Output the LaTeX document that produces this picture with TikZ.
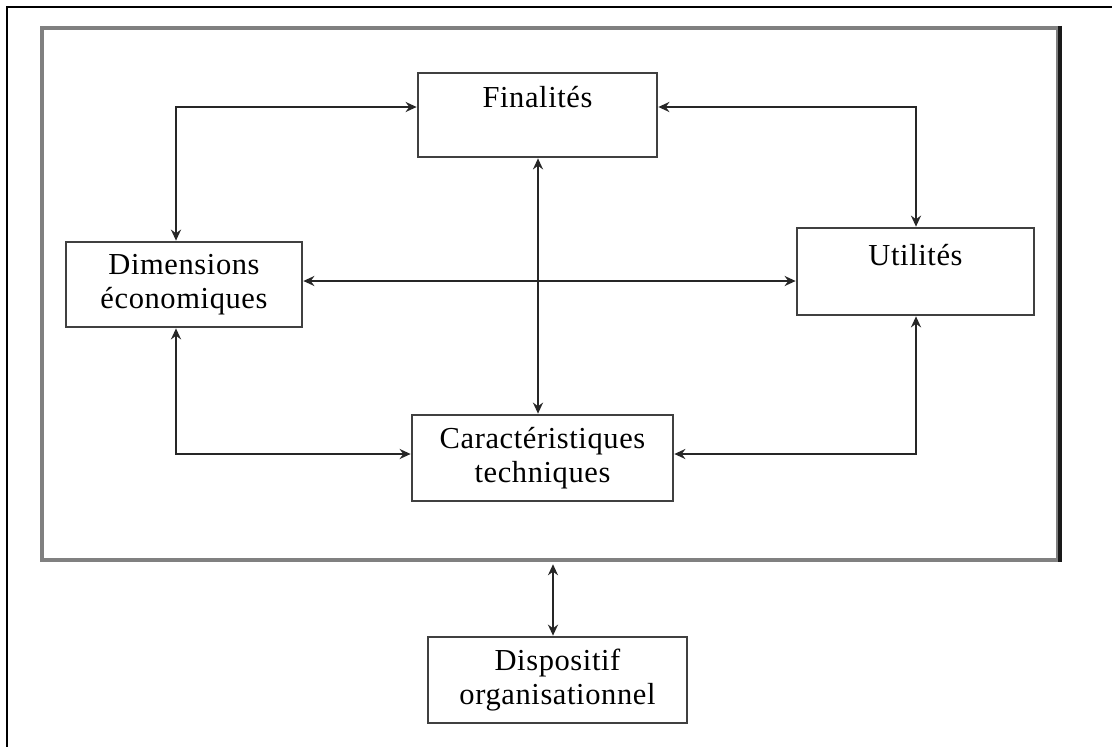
\documentclass[tikz,border=0pt]{standalone}
\usepackage{fontspec}
\setmainfont{Liberation Serif}[LetterSpace=2]
\usetikzlibrary{arrows.meta}
\begin{document}
\begin{tikzpicture}[x=1pt,y=-1pt,
  box/.style={draw=black!75,line width=2.7pt,fill=white,inner sep=0pt,align=center,
    font=\fontsize{30.5}{34}\selectfont},
  framebox/.style={draw=black!50,line width=4.5pt,inner sep=0pt},
  link/.style={draw=black!85,line width=2.8pt,{Stealth[length=11pt,width=10pt]}-{Stealth[length=11pt,width=10pt]}}
]
\useasboundingbox (0,0) rectangle (1112,747);
\fill[white] (0,0) rectangle (1112,747);
% outer border (top and left visible)
\draw[line width=2.5pt,black] (7,747) -- (7,7) -- (1112,7);
% main frame
\node[framebox,minimum width=1016pt,minimum height=532pt] (frame) at (550,294) {};
\draw[line width=4pt,black!90] (frame.north east) -- (frame.south east);
% boxes
\node[box,minimum width=239pt,text height=34pt,text depth=50pt] (fin) at (537.5,115) {Finalités};
\node[box,minimum width=236pt,minimum height=85pt] (dim) at (184,284.5) {Dimensions\\économiques};
\node[box,minimum width=237pt,text height=37pt,text depth=50pt] (uti) at (915.5,271.5) {Utilités};
\node[box,minimum width=261pt,minimum height=86pt] (car) at (542.5,458) {Caractéristiques\\techniques};
\node[box,minimum width=259pt,minimum height=86pt] (dis) at (557.5,680) {Dispositif\\organisationnel};
% corner coordinates
\coordinate (c1) at (176,107);
\coordinate (c2) at (916,107);
\coordinate (c3) at (176,454);
\coordinate (c4) at (916,454);
\coordinate (mid) at (538,281);
\coordinate (fd) at (553,600);
% connectors
\draw[link] (dim.north -| c1) |- (c1 -| fin.west);
\draw[link] (c2 -| fin.east) -| (uti.north -| c2);
\draw[link] (dim.east |- mid) -- (uti.west |- mid);
\draw[link] (fin.south -| mid) -- (car.north -| mid);
\draw[link] (dim.south -| c3) |- (c3 -| car.west);
\draw[link] (uti.south -| c4) |- (c4 -| car.east);
\draw[link] ([yshift=-2pt]frame.south -| fd) -- (dis.north -| fd);
\end{tikzpicture}
\end{document}
